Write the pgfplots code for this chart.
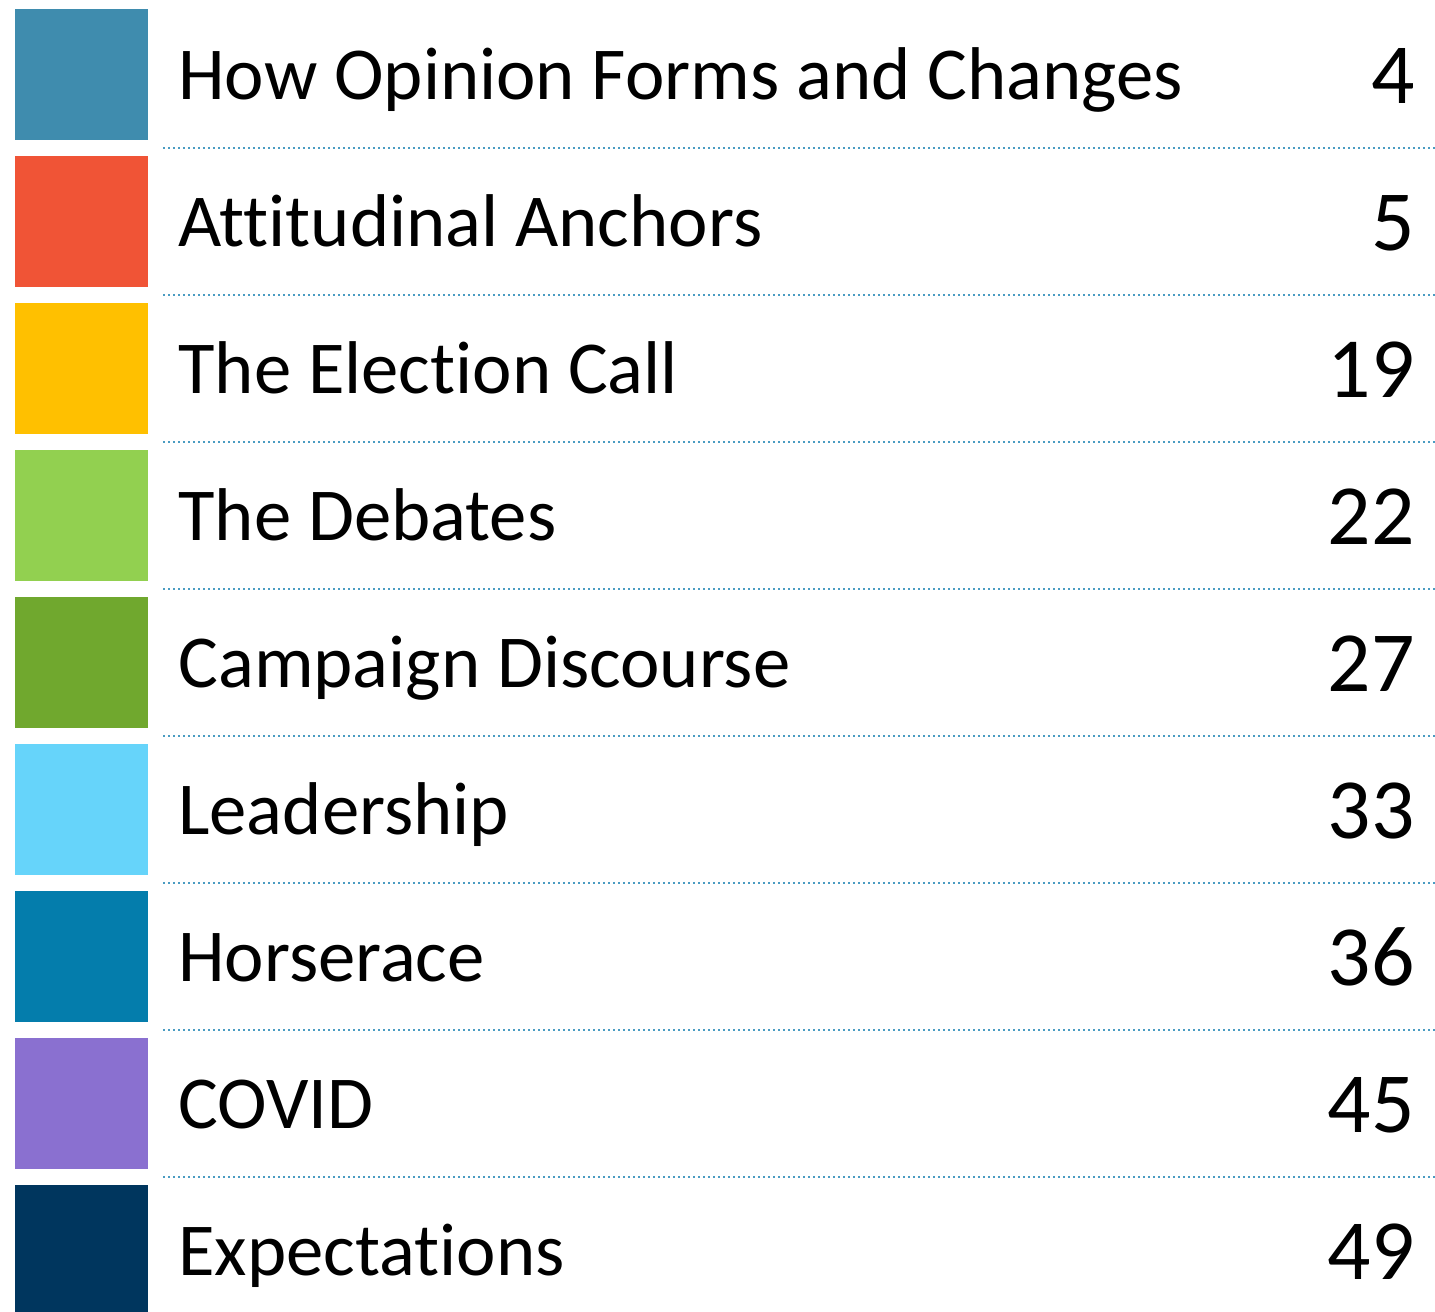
\documentclass[border=0pt]{standalone}
\usepackage{pgfplots}
\pgfplotsset{compat=1.18}
\usepackage{fontspec}
\setmainfont{Carlito}[Ligatures=NoCommon]
\definecolor{c1}{HTML}{3F8CAE}
\definecolor{c2}{HTML}{F05436}
\definecolor{c3}{HTML}{FFC000}
\definecolor{c4}{HTML}{92D050}
\definecolor{c5}{HTML}{70A82E}
\definecolor{c6}{HTML}{66D4FA}
\definecolor{c7}{HTML}{047DAC}
\definecolor{c8}{HTML}{8A70D0}
\definecolor{c9}{HTML}{00365E}
\definecolor{dotc}{HTML}{4A9CC2}
\begin{document}
\begin{tikzpicture}
\begin{axis}[
  width=717.5bp, height=656bp, scale only axis,
  xmin=0, xmax=1435, ymin=0, ymax=1312, y dir=reverse,
  hide axis, clip=true,
]
\path (rel axis cs:0,0) rectangle (rel axis cs:1,1);
% squares: top y = 9 + 147*k, height 131
\pgfplotsinvokeforeach{1,...,9}{
  \pgfmathsetmacro{\t}{9+147*(#1-1)}
  \pgfmathsetmacro{\b}{min(\t+131,1312)}
  \edef\temp{\noexpand\addplot[fill=c#1, draw=none] coordinates {(15,\t) (148,\t) (148,\b) (15,\b)} --cycle;}
  \temp
}
% dotted separators
\pgfplotsinvokeforeach{1,...,8}{
  \pgfmathsetmacro{\yy}{148+147*(#1-1)}
  \edef\temp{\noexpand\addplot[dotc, line width=1.2bp, dash pattern=on 1.2bp off 1.3bp] coordinates {(163,\yy) (1435,\yy)};}
  \temp
}
\end{axis}
\begin{axis}[
  width=717.5bp, height=656bp, scale only axis,
  xmin=0, xmax=1435, ymin=0, ymax=1312, y dir=reverse,
  hide axis, clip=false,
]
\def\lab#1#2#3{%
  \node[anchor=base west, inner sep=0pt, font=\fontsize{37.5}{45}\selectfont] at (axis cs:178,{9+147*(#1-1)+90}) {#2};
  \node[anchor=base east, inner sep=0pt, font=\fontsize{43}{50}\selectfont] at (axis cs:1415,{9+147*(#1-1)+94}) {#3};
}
\lab{1}{How Opinion Forms and Changes}{4}
\lab{2}{Attitudinal Anchors}{5}
\lab{3}{The Election Call}{19}
\lab{4}{The Debates}{22}
\lab{5}{Campaign Discourse}{27}
\lab{6}{Leadership}{33}
\lab{7}{Horserace}{36}
\lab{8}{COVID}{45}
\lab{9}{Expectations}{49}
\end{axis}
\end{tikzpicture}
\end{document}
